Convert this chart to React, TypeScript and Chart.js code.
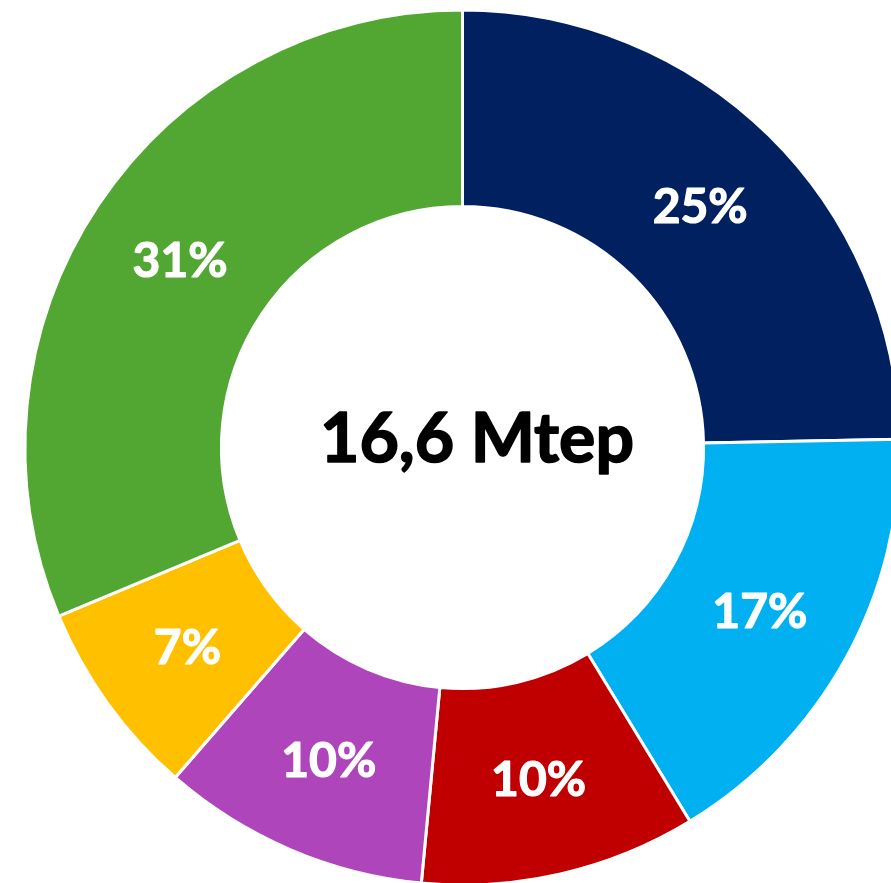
import React, { useEffect, useRef } from "react";
import { Chart, registerables } from "chart.js";

Chart.register(...registerables);

// ---- data ----
const categories = ["Part 1", "Part 2", "Part 3", "Part 4", "Part 5", "Part 6"];
const shares = [24.7, 16.6, 10.2, 9.9, 7.3, 31.3];
const shareLabels = ["25%", "17%", "10%", "10%", "7%", "31%"];
const totalLabel = "16,6 Mtep";

// ---- style ----
const colors = ["#002060", "#00B0F0", "#C00000", "#AE45BB", "#FFC000", "#52A733"];
const FONT = "Lato, 'Open Sans', 'DejaVu Sans', sans-serif";

const labelPlugin = {
  id: "donutLabels",
  afterDatasetsDraw(chart: any) {
    const ctx: CanvasRenderingContext2D = chart.ctx;
    const meta = chart.getDatasetMeta(0);
    ctx.save();
    ctx.fillStyle = "#ffffff";
    ctx.strokeStyle = "#ffffff";
    ctx.lineJoin = "round";
    ctx.lineWidth = 1.2;
    ctx.textAlign = "center";
    ctx.textBaseline = "alphabetic";
    ctx.font = `bold 48px ${FONT}`;
    const cap = ctx.measureText("0").actualBoundingBoxAscent;
    meta.data.forEach((arc: any, i: number) => {
      const p = arc.tooltipPosition();
      ctx.fillText(shareLabels[i], p.x, p.y + cap / 2);
      ctx.strokeText(shareLabels[i], p.x, p.y + cap / 2);
    });
    // centre text
    const el = meta.data[0];
    const cx = el.x;
    const cy = el.y;
    ctx.fillStyle = "#000000";
    ctx.strokeStyle = "#000000";
    ctx.lineWidth = 1.6;
    ctx.font = `bold 68px ${FONT}`;
    const cap2 = ctx.measureText("1").actualBoundingBoxAscent;
    ctx.fillText(totalLabel, cx + 14.5, cy - 10.5 + cap2 / 2);
    ctx.strokeText(totalLabel, cx + 14.5, cy - 10.5 + cap2 / 2);
    ctx.restore();
  },
};

export default function App() {
  const ref = useRef<HTMLCanvasElement | null>(null);
  useEffect(() => {
    if (!ref.current) return;
    const chart = new Chart(ref.current, {
      type: "doughnut",
      data: {
        labels: categories,
        datasets: [
          {
            data: shares,
            backgroundColor: colors,
            borderColor: "#ffffff",
            borderWidth: 3,
          },
        ],
      },
      options: {
        responsive: false,
        animation: false,
        radius: 437.5,
        cutout: "55.1%",
        layout: { padding: 0 },
        plugins: {
          legend: { display: false },
          tooltip: { enabled: false },
        },
      } as any,
      plugins: [labelPlugin],
    });
    return () => chart.destroy();
  }, []);
  return (
    <div
      style={{
        position: "fixed",
        left: 0,
        top: 0,
        width: 891,
        height: 883,
        overflow: "hidden",
        background: "#ffffff",
      }}
    >
      <canvas ref={ref} width={925} height={895} style={{ display: "block", width: 925, height: 895 }} />
    </div>
  );
}
